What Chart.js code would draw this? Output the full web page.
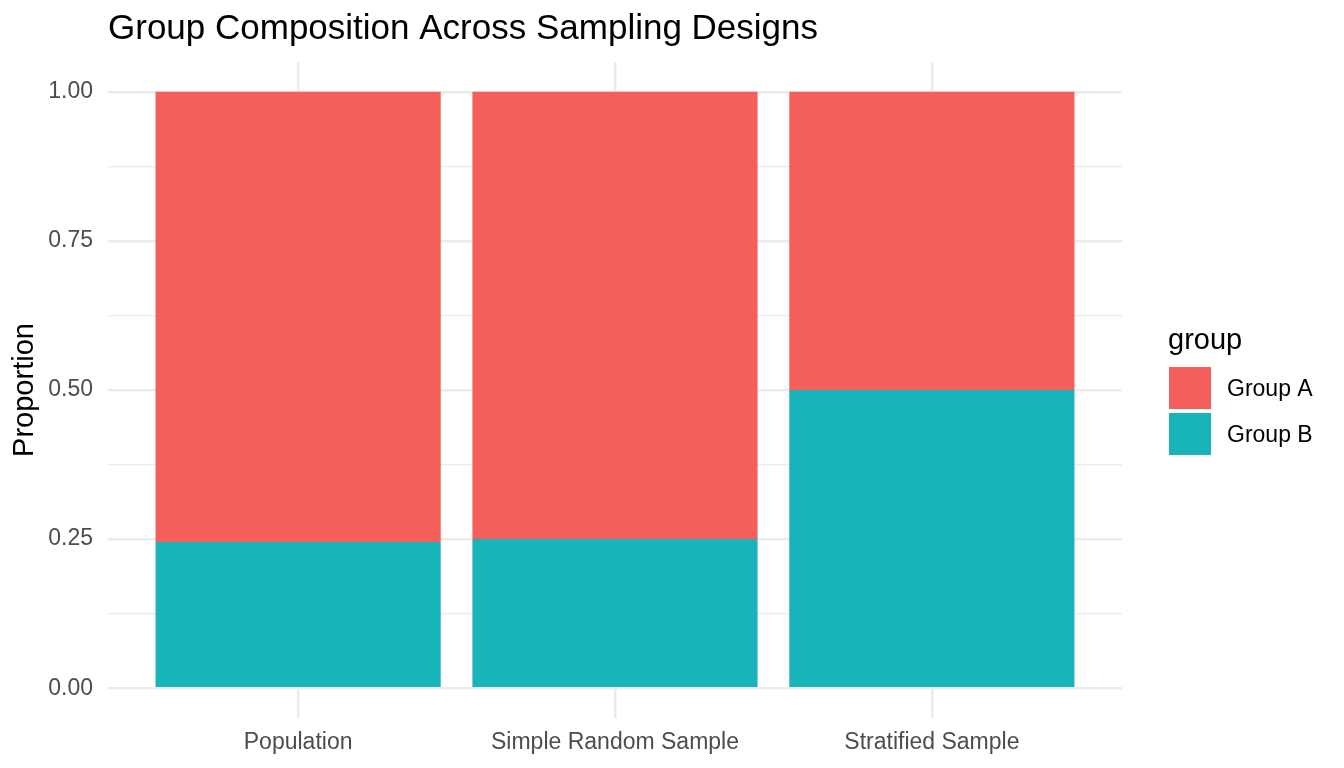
<!DOCTYPE html>
<html>
<head>
<meta charset="utf-8">
<script src="https://cdn.jsdelivr.net/npm/chart.js@4"></script>
<style>
html,body{margin:0;padding:0;background:#fff;}
#wrap{width:1344px;height:768px;}
</style>
</head>
<body>
<div id="wrap"><canvas id="c" width="1344" height="768"></canvas></div>
<script>
const categories = ["Population", "Simple Random Sample", "Stratified Sample"];
const groupA = [0.755, 0.75, 0.5];
const groupB = [0.245, 0.25, 0.5];
const seriesNames = ["Group A", "Group B"];
const seriesColors = ["#F45F5B", "#19B4B9"];
const yTicks = [0, 0.25, 0.5, 0.75, 1.0];
const yMinorTicks = [0.125, 0.375, 0.625, 0.875];
const chartTitle = "Group Composition Across Sampling Designs";
const yTitle = "Proportion";
const legendTitle = "group";

const FONT = "'Liberation Sans', Arial, Helvetica, sans-serif";
const GRID = "#EBEBEB";

const overlay = {
  id: 'overlay',
  afterDraw(chart) {
    const ctx = chart.ctx;
    const area = chart.chartArea;
    ctx.save();
    ctx.fillStyle = '#000';
    ctx.font = '35px ' + FONT;
    ctx.textAlign = 'left';
    ctx.textBaseline = 'alphabetic';
    ctx.fillText(chartTitle, area.left, 39);
    const lx = area.right + 47;
    ctx.font = '29px ' + FONT;
    ctx.fillText(legendTitle, lx - 1, 349);
    const order = [1, 0];
    let ky = 367;
    order.forEach(di => {
      const ds = chart.data.datasets[di];
      ctx.fillStyle = ds.backgroundColor;
      ctx.fillRect(lx, ky, 42, 42);
      ctx.fillStyle = '#000';
      ctx.font = '23px ' + FONT;
      ctx.textBaseline = 'middle';
      ctx.fillText(ds.label, lx + 58, ky + 23);
      ctx.textBaseline = 'alphabetic';
      ky += 46;
    });
    ctx.restore();
  }
};

const isMajor = v => yTicks.some(t => Math.abs(t - v) < 1e-9);

new Chart(document.getElementById('c'), {
  type: 'bar',
  data: {
    datasets: [
      { label: seriesNames[1], data: categories.map((c, i) => ({x: i, y: groupB[i]})), backgroundColor: seriesColors[1] },
      { label: seriesNames[0], data: categories.map((c, i) => ({x: i, y: groupA[i]})), backgroundColor: seriesColors[0] }
    ]
  },
  options: {
    responsive: false,
    animation: false,
    devicePixelRatio: 1,
    barPercentage: 0.9,
    categoryPercentage: 1.0,
    layout: { padding: { top: 62, right: 222, left: 0, bottom: 0 } },
    plugins: { legend: { display: false }, tooltip: { enabled: false }, title: { display: false } },
    scales: {
      x: {
        type: 'linear',
        stacked: true,
        offset: false,
        min: -0.6,
        max: 2.6,
        afterBuildTicks: s => { s.ticks = categories.map((c, i) => ({ value: i })); },
        afterFit: s => { s.height = 50; },
        ticks: {
          callback: v => categories[v] !== undefined ? categories[v] : '',
          color: '#4D4D4D',
          font: { family: FONT, size: 23 },
          padding: 11,
          maxRotation: 0,
          autoSkip: false
        },
        grid: { color: GRID, lineWidth: 2.5, drawTicks: false, offset: false },
        border: { display: false }
      },
      y: {
        stacked: true,
        min: -0.05,
        max: 1.05,
        afterBuildTicks: s => {
          s.ticks = yTicks.concat(yMinorTicks).sort((a, b) => a - b).map(v => ({ value: v }));
        },
        afterFit: s => { s.width = 108; },
        ticks: {
          callback: v => isMajor(v) ? v.toFixed(2) : '',
          color: '#4D4D4D',
          font: { family: FONT, size: 23 },
          padding: 15,
          autoSkip: false
        },
        grid: {
          color: GRID,
          lineWidth: c => (c.tick && isMajor(c.tick.value)) ? 2.5 : 1.2,
          drawTicks: false
        },
        border: { display: false },
        title: {
          display: true,
          text: yTitle,
          color: '#000',
          font: { family: FONT, size: 29 },
          padding: { top: 8, bottom: 0 }
        }
      }
    }
  },
  plugins: [overlay]
});
</script>
</body>
</html>
